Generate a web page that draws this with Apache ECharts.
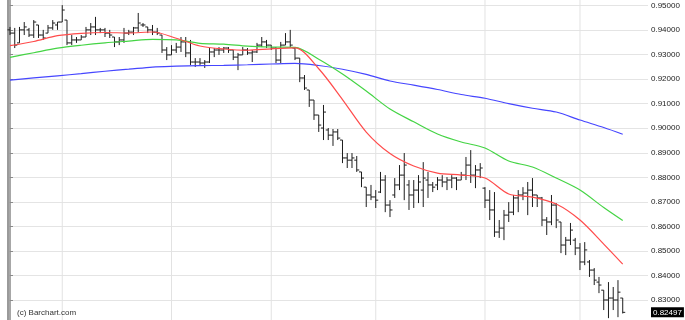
<!DOCTYPE html>
<html><head><meta charset="utf-8">
<script src="https://cdn.jsdelivr.net/npm/echarts@6/dist/echarts.min.js"></script>
<style>html,body{margin:0;padding:0;background:#fff}#c{width:685px;height:320px}</style>
</head><body><div id="c"></div>
<script>
// ---- data ----
const opens = [.9401,.9388,.9348,.9401,.9401,.9380,.9421,.9380,.9388,.9409,
.9421,.9433,.9441,.9348,.9360,.9360,.9372,.9401,.9413,.9401,
.9401,.9388,.9372,.9352,.9360,.9388,.9392,.9409,.9421,.9413,
.9401,.9392,.9380,.9319,.9299,.9319,.9331,.9352,.9307,.9270,
.9270,.9266,.9270,.9311,.9319,.9319,.9327,.9319,.9290,.9299,
.9319,.9307,.9311,.9339,.9352,.9339,.9327,.9278,.9339,.9352,
.9327,.9286,.9205,.9156,.9115,.9054,.9001,.8993,.8972,.8985,
.8952,.8879,.8870,.8870,.8822,.8760,.8728,.8720,.8740,.8789,
.8687,.8728,.8769,.8809,.8769,.8728,.8748,.8748,.8789,.8769,
.8769,.8789,.8781,.8789,.8797,.8789,.8809,.8850,.8809,.8830,
.8756,.8707,.8667,.8577,.8593,.8646,.8658,.8716,.8728,.8736,
.8748,.8728,.8716,.8626,.8618,.8687,.8618,.8524,.8544,.8544,
.8512,.8455,.8455,.8422,.8373,.8340,.8300,.8308,.8300,.8308];
const highs = [.9413,.9409,.9413,.9433,.9409,.9441,.9421,.9401,.9421,.9441,
.9433,.9502,.9441,.9380,.9372,.9380,.9413,.9429,.9454,.9409,
.9409,.9401,.9372,.9372,.9409,.9401,.9413,.9470,.9429,.9413,
.9421,.9409,.9380,.9331,.9339,.9348,.9372,.9372,.9360,.9286,
.9286,.9278,.9327,.9327,.9331,.9331,.9331,.9319,.9307,.9331,
.9327,.9319,.9348,.9372,.9360,.9339,.9331,.9352,.9388,.9401,
.9331,.9286,.9217,.9156,.9115,.9054,.9095,.9001,.8997,.8997,
.8952,.8899,.8899,.8887,.8822,.8760,.8769,.8748,.8822,.8809,
.8707,.8797,.8850,.8899,.8789,.8789,.8809,.8862,.8822,.8781,
.8801,.8809,.8801,.8809,.8801,.8822,.8883,.8911,.8850,.8858,
.8760,.8748,.8740,.8626,.8667,.8699,.8728,.8748,.8760,.8781,
.8797,.8728,.8720,.8638,.8728,.8695,.8618,.8557,.8614,.8553,
.8532,.8536,.8463,.8430,.8394,.8340,.8373,.8353,.8381,.8308];
const lows = [.9380,.9327,.9348,.9380,.9372,.9368,.9368,.9360,.9388,.9401,
.9401,.9433,.9339,.9339,.9348,.9360,.9372,.9380,.9380,.9388,
.9372,.9368,.9331,.9339,.9348,.9380,.9380,.9392,.9413,.9388,
.9380,.9380,.9307,.9278,.9299,.9307,.9311,.9290,.9258,.9250,
.9258,.9246,.9266,.9290,.9299,.9307,.9307,.9278,.9237,.9299,
.9299,.9270,.9307,.9331,.9327,.9319,.9266,.9266,.9339,.9331,
.9278,.9188,.9156,.9087,.9034,.8985,.8952,.8952,.8928,.8952,
.8858,.8838,.8838,.8822,.8760,.8679,.8707,.8675,.8736,.8658,
.8638,.8716,.8748,.8707,.8667,.8675,.8695,.8679,.8716,.8740,
.8748,.8760,.8748,.8756,.8748,.8789,.8789,.8777,.8756,.8797,
.8675,.8626,.8557,.8553,.8544,.8618,.8646,.8658,.8707,.8646,
.8679,.8679,.8601,.8565,.8605,.8593,.8491,.8483,.8524,.8483,
.8422,.8442,.8394,.8361,.8328,.8259,.8226,.8259,.8230,.8245];
const closes = [.9388,.9339,.9401,.9413,.9380,.9433,.9380,.9368,.9409,.9429,
.9433,.9482,.9348,.9360,.9360,.9372,.9401,.9413,.9401,.9401,
.9388,.9380,.9352,.9360,.9388,.9392,.9409,.9429,.9421,.9401,
.9392,.9388,.9319,.9299,.9319,.9331,.9352,.9307,.9270,.9270,
.9266,.9270,.9311,.9319,.9319,.9327,.9319,.9290,.9299,.9319,
.9307,.9311,.9339,.9352,.9339,.9327,.9278,.9339,.9352,.9339,
.9286,.9205,.9164,.9115,.9054,.9013,.9066,.8972,.8985,.8960,
.8879,.8870,.8879,.8830,.8797,.8728,.8720,.8707,.8789,.8687,
.8667,.8769,.8809,.8850,.8728,.8748,.8781,.8797,.8769,.8760,
.8789,.8781,.8789,.8797,.8789,.8809,.8850,.8809,.8830,.8838,
.8707,.8667,.8577,.8593,.8646,.8658,.8716,.8728,.8736,.8748,
.8728,.8716,.8626,.8618,.8687,.8626,.8524,.8544,.8585,.8512,
.8455,.8504,.8422,.8381,.8361,.8300,.8308,.8300,.8332,.82497];

// moving-average lines, sampled at these bar indices
const maIdx  = [0,5,10,15,20,25,30,35,40,45,50,55,60,65,70,75,80,85,90,95,100,105,110,115,120,125,129];
const maFast = [.93365,.93536,.93773,.93870,.93903,.93883,.93923,.93671,.93353,.93230,.93181,.93238,.93275,.92427,.91171,.89846,.88970,.88460,.88175,.88093,.87971,.87319,.87196,.86911,.86259,.85280,.84465];
const maMid  = [.92892,.93079,.93263,.93385,.93483,.93556,.93626,.93605,.93463,.93430,.93348,.93312,.93300,.92814,.92211,.91518,.90784,.90262,.89765,.89439,.89194,.88664,.88419,.87971,.87482,.86768,.86238];
const maSlow = [.91966,.92052,.92138,.92227,.92325,.92407,.92496,.92529,.92553,.92566,.92590,.92619,.92643,.92558,.92407,.92195,.91926,.91758,.91579,.91375,.91224,.91004,.90817,.90662,.90336,.90030,.89757];

// first bar of each month (vertical grid lines)
const monthStarts = [11,34,55,77,100,120];

// price axis
const Y_MIN = 0.82, Y_MAX = 0.96, Y_STEP = 0.01;
const watermark = '(c) Barchart.com';

// ---- chart ----
const FONT = '"Liberation Sans", Arial, sans-serif';
const ohlcData = opens.map((o, i) => [i, o, highs[i], lows[i], closes[i]]);
const pair = (vals) => maIdx.map((ix, k) => [ix, vals[k]]);
const lastClose = closes[closes.length - 1];

function renderOHLC(params, api) {
  const i = api.value(0);
  const o = api.coord([i, api.value(1)]);
  const h = api.coord([i, api.value(2)]);
  const l = api.coord([i, api.value(3)]);
  const c = api.coord([i, api.value(4)]);
  const x = o[0];
  const st = { stroke: '#1e1e1e', lineWidth: 1 };
  return { type: 'group', children: [
    { type: 'line', shape: { x1: x, y1: h[1], x2: x, y2: l[1] }, style: st },
    { type: 'line', shape: { x1: x - 2.5, y1: o[1], x2: x, y2: o[1] }, style: st },
    { type: 'line', shape: { x1: x, y1: c[1], x2: x + 2.5, y2: c[1] }, style: st }
  ]};
}
function renderMonth(params, api) {
  const i = api.value(0);
  const t = api.coord([i, Y_MAX]);
  const b = api.coord([i, Y_MIN]);
  return { type: 'line', shape: { x1: t[0], y1: t[1], x2: b[0], y2: b[1] },
           style: { stroke: '#e2e2e2', lineWidth: 1 } };
}

const chart = echarts.init(document.getElementById('c'), null, { renderer: 'canvas' });
chart.setOption({
  animation: false,
  backgroundColor: '#ffffff',
  grid: { left: 8, right: 37, top: -18.93, bottom: -4.53, containLabel: false, outerBoundsMode: 'none' },
  xAxis: { type: 'value', min: -0.42, max: 134.32, show: false },
  yAxis: [
    { type: 'value', position: 'right', min: Y_MIN, max: Y_MAX, interval: Y_STEP,
      axisLine: { show: true, lineStyle: { color: '#8a8a8a', width: 1.5 } },
      axisTick: { show: true, length: 3, lineStyle: { color: '#8a8a8a' } },
      axisLabel: { margin: 3, fontSize: 8, color: '#222', fontFamily: FONT,
                   formatter: v => v.toFixed(5) },
      splitLine: { show: true, lineStyle: { color: '#e4e4e4', width: 1 } } },
    { type: 'value', position: 'left', min: Y_MIN, max: Y_MAX, interval: Y_STEP,
      axisLine: { show: true, lineStyle: { color: '#9a9a9a', width: 2 } },
      axisTick: { show: false }, axisLabel: { show: false }, splitLine: { show: false } }
  ],
  series: [
    { type: 'custom', name: 'months', z: 1, silent: true, renderItem: renderMonth,
      data: monthStarts.map(i => [i, Y_MIN]), encode: { x: 0, y: 1 } },
    { type: 'custom', name: 'price', z: 3, silent: true, renderItem: renderOHLC,
      data: ohlcData, encode: { x: 0, y: [1, 2, 3, 4] } },
    { type: 'line', name: 'slow', z: 4, data: pair(maSlow), smooth: 0.3, symbol: 'none', silent: true,
      lineStyle: { color: '#4646ff', width: 1.2 } },
    { type: 'line', name: 'mid', z: 4, data: pair(maMid), smooth: 0.3, symbol: 'none', silent: true,
      lineStyle: { color: '#44d444', width: 1.2 } },
    { type: 'line', name: 'fast', z: 4, data: pair(maFast), smooth: 0.3, symbol: 'none', silent: true,
      lineStyle: { color: '#ff4b4b', width: 1.2 } }
  ]
});

// last-price tag and watermark (positioned from the axis scale)
const lastY = chart.convertToPixel({ yAxisIndex: 0 }, lastClose);
const axisX = chart.convertToPixel({ xAxisIndex: 0 }, 134.32);
chart.setOption({
  graphic: [
    { type: 'text', left: 17, top: 309, z: 10,
      style: { text: watermark, fontSize: 8, fill: '#333', fontFamily: FONT } },
    { type: 'text', x: axisX + 3, y: lastY, z: 10,
      style: { text: lastClose.toFixed(5), fontSize: 8, fill: '#fff', fontFamily: FONT,
               backgroundColor: '#000', padding: [1, 2, 1, 2], verticalAlign: 'middle', align: 'left' } }
  ]
});
</script></body></html>
